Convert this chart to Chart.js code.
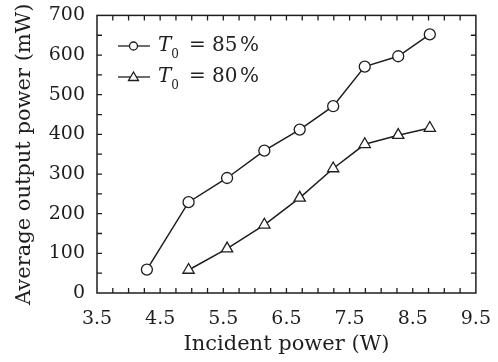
<!DOCTYPE html>
<html>
<head>
<meta charset="utf-8">
<script src="https://cdn.jsdelivr.net/npm/chart.js@4/dist/chart.umd.min.js"></script>
<style>
    html, body { margin: 0; padding: 0; background: #fff; }
    #wrap { width: 498px; height: 362px; }
</style>
</head>
<body>
<div id="wrap"><canvas id="chartPower"></canvas></div>
<script>
// incident power (W) / average output power (mW)
var power85_x = [4.29, 4.95, 5.56, 6.15, 6.71, 7.24, 7.74, 8.27, 8.77];
var power85_y = [59, 229, 290, 359, 412, 471, 571, 597, 652];
var power80_x = [4.95, 5.56, 6.15, 6.71, 7.24, 7.74, 8.27, 8.77];
var power80_y = [58, 112, 172, 240, 314, 375, 398, 416];
var xTicks = [3.5, 4.5, 5.5, 6.5, 7.5, 8.5, 9.5];
var yTicks = [0, 100, 200, 300, 400, 500, 600, 700];
var legendLabels = ['85', '80'];

var ink = '#1e1e1e';
var serif = '"DejaVu Serif", "Liberation Serif", serif';

function pts(xs, ys) {
    return xs.map(function (x, i) { return {x: x, y: ys[i]}; });
}

// frame, inward ticks and the legend
var framePlugin = {
    id: 'frame',
    afterDraw: function (chart) {
        var ctx = chart.ctx;
        var a = chart.chartArea;
        var sx = chart.scales.x, sy = chart.scales.y;
        ctx.save();
        ctx.strokeStyle = ink;
        ctx.lineWidth = 1.5;
        ctx.strokeRect(a.left, a.top, a.right - a.left, a.bottom - a.top);
        ctx.lineWidth = 1.3;
        ctx.beginPath();
        for (var v = 3.75; v < 9.5; v += 0.25) {
            var px = sx.getPixelForValue(v);
            ctx.moveTo(px, a.bottom); ctx.lineTo(px, a.bottom - 5);
            ctx.moveTo(px, a.top); ctx.lineTo(px, a.top + 5);
        }
        for (var w = 50; w < 700; w += 50) {
            var py = sy.getPixelForValue(w);
            ctx.moveTo(a.left, py); ctx.lineTo(a.left + 5, py);
            ctx.moveTo(a.right, py); ctx.lineTo(a.right - 5, py);
        }
        ctx.stroke();

        // legend
        var rows = [46, 77];
        chart.data.datasets.forEach(function (ds, i) {
            var y = rows[i];
            ctx.strokeStyle = ink;
            ctx.lineWidth = 1.3;
            ctx.beginPath();
            ctx.moveTo(118, y); ctx.lineTo(150, y);
            ctx.stroke();
            ctx.fillStyle = '#fff';
            ctx.beginPath();
            if (ds.pointStyle === 'triangle') {
                ctx.moveTo(133.5, y - 5); ctx.lineTo(138.5, y + 3.5); ctx.lineTo(128.5, y + 3.5); ctx.closePath();
            } else {
                ctx.arc(133.5, y, 4, 0, Math.PI * 2);
            }
            ctx.fill(); ctx.stroke();
            ctx.fillStyle = ink;
            ctx.textBaseline = 'middle';
            ctx.font = 'italic 20px ' + serif;
            ctx.fillText('T', 158, y);
            var tw = ctx.measureText('T').width;
            ctx.font = '12px ' + serif;
            ctx.fillText('0', 158 + tw, y + 9);
            ctx.font = '20px ' + serif;
            ctx.fillText('=', 189, y);
            ctx.fillText(legendLabels[i], 212, y);
            ctx.fillText('%', 240, y);
        });
        ctx.restore();
    }
};

var chartPower = new Chart(document.getElementById('chartPower'), {
    type: 'scatter',
    data: {
        datasets: [{
                data: pts(power85_x, power85_y),
                showLine: true,
                borderColor: ink,
                borderWidth: 1.5,
                pointStyle: 'circle',
                pointRadius: 5.5,
                pointBackgroundColor: '#fff',
                pointBorderColor: ink,
                pointBorderWidth: 1.3
            }, {
                data: pts(power80_x, power80_y),
                showLine: true,
                borderColor: ink,
                borderWidth: 1.5,
                pointStyle: 'triangle',
                pointRadius: 6.5,
                pointBackgroundColor: '#fff',
                pointBorderColor: ink,
                pointBorderWidth: 1.3
            }]
    },
    options: {
        responsive: true,
        maintainAspectRatio: false,
        animation: false,
        layout: {
            padding: {top: 14, right: 20, left: 0, bottom: 0}
        },
        plugins: {
            legend: {display: false},
            tooltip: {enabled: false}
        },
        scales: {
            x: {
                type: 'linear',
                min: 3.5,
                max: 9.5,
                afterBuildTicks: function (s) {
                    s.ticks = xTicks.map(function (v) { return {value: v}; });
                },
                afterFit: function (s) { s.height = 69; },
                grid: {display: false},
                border: {display: false},
                ticks: {
                    color: ink,
                    padding: 7,
                    maxRotation: 0,
                    font: {family: serif, size: 19},
                    callback: function (v) { return v.toFixed(1); }
                },
                title: {
                    display: true,
                    text: 'Incident power (W)',
                    color: ink,
                    padding: {top: 0, bottom: 5},
                    font: {family: serif, size: 21}
                }
            },
            y: {
                min: 0,
                max: 700,
                afterBuildTicks: function (s) {
                    s.ticks = yTicks.map(function (v) { return {value: v}; });
                },
                afterFit: function (s) { s.width = 97; },
                grid: {display: false},
                border: {display: false},
                ticks: {
                    color: ink,
                    padding: 4,
                    font: {family: serif, size: 19}
                },
                title: {
                    display: true,
                    text: 'Average output power (mW)',
                    color: ink,
                    padding: {top: 12, bottom: 0},
                    font: {family: serif, size: 21}
                }
            }
        }
    },
    plugins: [framePlugin]
});
</script>
</body>
</html>
